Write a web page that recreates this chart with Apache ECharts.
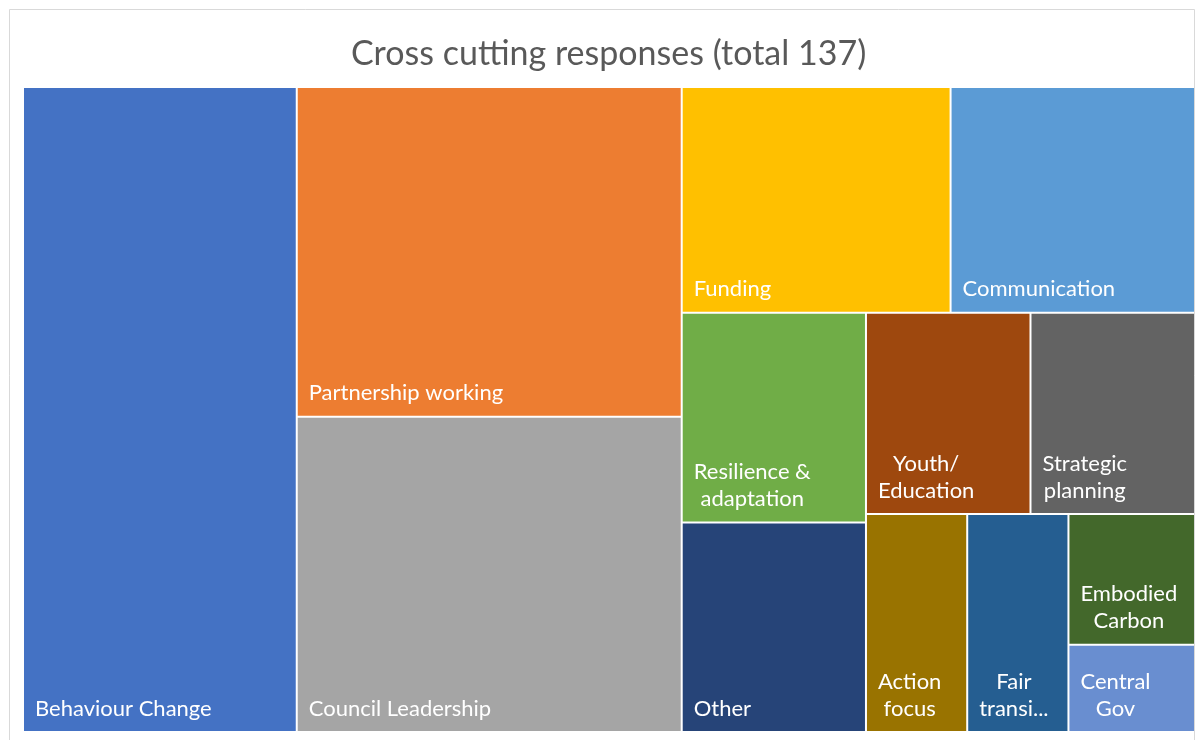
<!DOCTYPE html>
<html>
<head>
<meta charset="utf-8">
<script src="https://cdn.jsdelivr.net/npm/echarts@6/dist/echarts.min.js"></script>
<style>
html,body{margin:0;padding:0;background:#fff;}
#chart{width:1196px;height:740px;}
</style>
</head>
<body>
<div id="chart"></div>
<script>
const categories = ["Behaviour Change","Partnership working","Council Leadership","Funding","Communication","Resilience & adaptation","Other","Youth/ Education","Strategic planning","Action focus","Fair transition","Embodied Carbon","Central Gov"];
const values = [32,23,22,11,10,7,7,6,6,4,4,3,2];
const displayLabels = [["Behaviour Change"],["Partnership working"],["Council Leadership"],["Funding"],["Communication"],["Resilience &","adaptation"],["Other"],["Youth/","Education"],["Strategic","planning"],["Action","focus"],["Fair","transi..."],["Embodied","Carbon"],["Central","Gov"]];
const colors = ["#4472C4","#ED7D31","#A5A5A5","#FFC000","#5B9BD5","#70AD47","#264478","#9E480E","#636363","#997300","#255E91","#43682B","#698ED0"];
const titleText = "Cross cutting responses (total 137)";

const FONT = "Lato, 'Open Sans', sans-serif";
const LABEL_SIZE = 22;
const LINE_H = 27;
const PLOT = { left: 24, top: 88, width: 1170, height: 643 };

const data = categories.map((c, i) => ({
  name: c,
  value: values[i],
  itemStyle: { color: colors[i] }
}));

const frame = {
  id: 'frame', type: 'rect', silent: true, z: -1,
  shape: { x: 9.5, y: 9.5, width: 1185, height: 760 },
  style: { fill: 'none', stroke: '#d9d9d9', lineWidth: 1 }
};

const chart = echarts.init(document.getElementById('chart'), null, {renderer: 'canvas'});
chart.setOption({
  backgroundColor: '#fff',
  animation: false,
  title: {
    text: titleText,
    left: 346,
    top: 32,
    textStyle: { fontFamily: FONT, fontSize: 34, fontWeight: 'normal', color: '#595959' }
  },
  series: [{
    type: 'treemap',
    left: PLOT.left, top: PLOT.top, width: PLOT.width, height: PLOT.height,
    roam: false,
    nodeClick: false,
    sort: false,
    squareRatio: 0.75,
    breadcrumb: { show: false },
    levels: [
      { itemStyle: { gapWidth: 2, borderWidth: 0, borderColor: '#fff' } },
      { itemStyle: { borderWidth: 0, gapWidth: 0 } }
    ],
    label: { show: false },
    upperLabel: { show: false },
    data: data
  }]
});

// Place labels at bottom-left of each rectangle, using the layout computed by ECharts
const seriesModel = chart.getModel().getSeriesByIndex(0);
const root = seriesModel.getViewRoot();
const graphics = [frame];
root.children.forEach(function (node) {
  const lay = node.getLayout();
  const i = categories.indexOf(node.name);
  if (!lay || i < 0) return;
  const txt = displayLabels[i].map(l => '{c|' + l + '}').join('\n');
  graphics.push({
    id: 'lbl' + i, type: 'text', silent: true, z: 100,
    x: PLOT.left + lay.x + 11,
    y: PLOT.top + lay.y + lay.height - 9,
    style: {
      text: txt,
      align: 'left',
      verticalAlign: 'bottom',
      fill: '#fff',
      font: LABEL_SIZE + 'px ' + FONT,
      lineHeight: LINE_H,
      rich: {
        c: { align: 'center', fill: '#fff', fontSize: LABEL_SIZE, fontFamily: FONT, lineHeight: LINE_H }
      }
    }
  });
});
chart.setOption({ graphic: graphics });
</script>
</body>
</html>
